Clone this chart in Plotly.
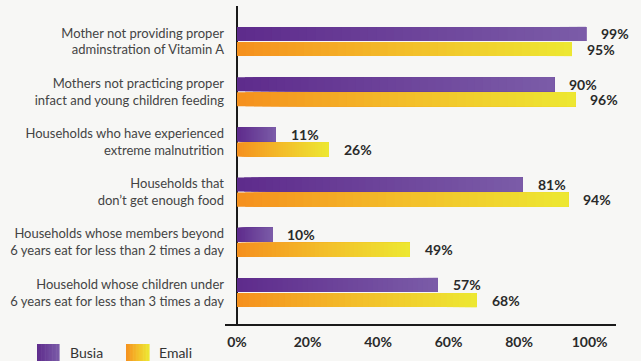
import plotly.graph_objects as go

categories = [
    "Mother not providing proper<br>adminstration of Vitamin A",
    "Mothers not practicing proper<br>infact and young children feeding",
    "Households who have experienced<br>extreme malnutrition",
    "Households that<br>don’t get enough food",
    "Households whose members beyond<br>6 years eat for less than 2 times a day",
    "Household whose children under<br>6 years eat for less than 3 times a day",
]
busia = [99, 90, 11, 81, 10, 57]
emali = [95, 96, 26, 94, 49, 68]
x_ticks = [0, 20, 40, 60, 80, 100]
x_ticklabels = ["0%", "20%", "40%", "60%", "80%", "100%"]

W, H = 641, 361
ML, MR, MT, MB = 225, 25, 6, 37
BG = "#f7f7f5"
FONT = "Lato"

purple_stops = [(94, 43, 140), (123, 92, 168)]
orange_stops = [(245, 144, 30), (243, 190, 42), (237, 232, 50)]


def interp(stops, t):
    n = len(stops) - 1
    k = min(int(t * n), n - 1)
    lt = t * n - k
    a, b = stops[k], stops[k + 1]
    return "rgb(%d,%d,%d)" % tuple(round(a[j] + (b[j] - a[j]) * lt) for j in range(3))


pos = list(range(len(categories)))
fig = go.Figure()
N = 40
for vals, stops, offset in [(busia, purple_stops, -0.29), (emali, orange_stops, 0.01)]:
    for i in range(N):
        f = i / N
        fig.add_trace(go.Bar(
            orientation="h", y=pos,
            x=[v * (1 - f) for v in vals],
            base=[v * f for v in vals],
            width=0.28, offset=offset,
            marker=dict(color=interp(stops, (i + 0.5) / N), line=dict(width=0)),
            showlegend=False, hoverinfo="skip",
        ))

annotations = []
for vals, offset in [(busia, -0.15), (emali, 0.15)]:
    for p, v in zip(pos, vals):
        annotations.append(dict(
            x=v, y=p + offset, xref="x", yref="y", text="%d%%" % v,
            showarrow=False, xanchor="left", yanchor="middle", xshift=13,
            font=dict(family=FONT, size=14, color="#2a2a2a", weight="bold"),
        ))

pw = W - ML - MR
ph = H - MT - MB


def px(xp):
    return (xp - ML) / pw


def py(yp):
    return (H - MB - yp) / ph


shapes = []
for (x0, x1, stops) in [(37, 59, purple_stops), (126, 149, orange_stops)]:
    S = 16
    for i in range(S):
        a = x0 + (x1 - x0) * i / S
        b = x0 + (x1 - x0) * (i + 1) / S + 0.6
        shapes.append(dict(type="rect", xref="paper", yref="paper",
                           x0=px(a), x1=px(b), y0=py(362), y1=py(344),
                           fillcolor=interp(stops, (i + 0.5) / S), line=dict(width=0), layer="above"))
for xt, label in [(68, "Busia"), (157, "Emali")]:
    annotations.append(dict(x=px(xt), y=py(352), xref="paper", yref="paper", text=label,
                            showarrow=False, xanchor="left", yanchor="middle",
                            font=dict(family=FONT, size=14, color="#333333")))

fig.update_layout(
    width=W, height=H, margin=dict(l=ML, r=MR, t=MT, b=MB),
    paper_bgcolor=BG, plot_bgcolor=BG,
    barmode="overlay", showlegend=False,
    annotations=annotations, shapes=shapes,
    xaxis=dict(range=[-3.4, 107.5], tickvals=x_ticks, ticktext=x_ticklabels,
               showgrid=False, zeroline=True, zerolinecolor="#1a1a1a", zerolinewidth=1.5,
               showline=True, linecolor="#1a1a1a", linewidth=1.5,
               tickfont=dict(family=FONT, size=14, color="#2a2a2a", weight="bold"),
               ticks="", ticklabelstandoff=4),
    yaxis=dict(range=[5.627, -0.707], tickvals=pos, ticktext=categories,
               showgrid=False, zeroline=False, showline=False, ticks="",
               tickfont=dict(family=FONT, size=13, color="#444444")),
)

fig.write_html("out.html")
